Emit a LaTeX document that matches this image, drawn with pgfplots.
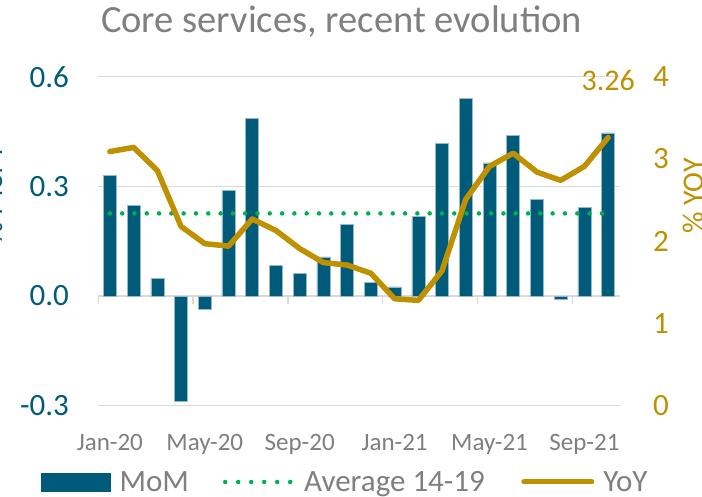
\documentclass[border=0pt]{standalone}
\usepackage{pgfplots}
\usepackage{pgfplotstable}
\pgfplotsset{compat=1.18}
\usepackage{fontspec}
\setmainfont{Carlito}
\definecolor{mteal}{RGB}{0,91,122}
\definecolor{medge}{RGB}{150,185,205}
\definecolor{mgold}{RGB}{191,144,0}
\definecolor{mgreen}{RGB}{0,176,80}
\definecolor{mgray}{RGB}{127,127,127}
\definecolor{mgrid}{RGB}{217,217,217}
\pgfplotstableread{
x mom yoy
0 0.330 3.09
1 0.247 3.14
2 0.048 2.86
3 -0.289 2.18
4 -0.037 1.97
5 0.289 1.94
6 0.487 2.27
7 0.084 2.13
8 0.061 1.91
9 0.107 1.74
10 0.195 1.71
11 0.037 1.61
12 0.025 1.30
13 0.218 1.28
14 0.417 1.64
15 0.540 2.51
16 0.364 2.91
17 0.440 3.07
18 0.265 2.84
19 -0.009 2.74
20 0.242 2.91
21 0.446 3.26
}\datatable
\begin{document}
\begin{tikzpicture}
\useasboundingbox (0,0) rectangle (702pt,496pt);
\node[anchor=base, text=mgray, font=\fontsize{38.5}{46}\selectfont, inner sep=0pt] at (341.5pt,463pt) {Core services, recent evolution};
\begin{axis}[
  at={(98pt,90.3pt)}, anchor=south west,
  scale only axis, width=522pt, height=329pt,
  xmin=-0.5, xmax=21.5, ymin=-0.3, ymax=0.6,
  enlargelimits=false,
  axis line style={draw=none},
  major tick length=0pt,
  ytick={-0.3,0,0.3,0.6},
  ytick pos=left,
  yticklabel style={anchor=east, inner sep=0pt, xshift=-29pt, text=mteal, font=\fontsize{31}{37}\selectfont},
  /pgf/number format/fixed, /pgf/number format/fixed zerofill, /pgf/number format/precision=1,
  /pgf/number format/assume math mode=true,
  ymajorgrids, grid style={mgrid, line width=1.5pt},
  xtick={0,4,8,12,16,20},
  xticklabels={Jan-20,May-20,Sep-20,Jan-21,May-21,Sep-21},
  xtick pos=bottom,
  xticklabel style={anchor=base, inner sep=0pt, yshift=-44.3pt, text=mgray, font=\fontsize{25}{30}\selectfont},
  ylabel={\% MoM},
  ylabel style={at={(axis description cs:-0.182,0.637)}, anchor=south, inner sep=0pt, text=mteal, font=\fontsize{30}{36}\selectfont},
]
\pgfplotsinvokeforeach{-0.5,3.5,7.5,11.5,15.5,19.5}{
  \draw[mgrid, line width=1.5pt] (axis cs:#1,0) -- ++(0pt,-8pt);
}
\addplot[ybar, bar width=13pt, fill=mteal, draw=medge, line width=0.5pt] table[x=x,y=mom]{\datatable};
\addplot[mgreen, line width=4.5pt, line cap=round, dash pattern=on 0pt off 12.3pt] coordinates {(0,0.226) (21,0.226)};
\end{axis}
\begin{axis}[
  at={(98pt,90.3pt)}, anchor=south west,
  scale only axis, width=522pt, height=329pt,
  xmin=-0.5, xmax=21.5, ymin=0, ymax=4,
  enlargelimits=false, clip=false,
  axis x line=none, axis y line*=right,
  axis line style={draw=none},
  major tick length=0pt,
  ytick={0,1,2,3,4},
  yticklabel style={anchor=west, inner sep=0pt, xshift=33pt, text=mgold, font=\fontsize{31}{37}\selectfont},
  /pgf/number format/assume math mode=true,
  ylabel={\% YOY},
  ylabel style={at={(axis description cs:1.1207,0.637)}, anchor=north, inner sep=0pt, text=mgold, font=\fontsize{30}{36}\selectfont},
  legend columns=-1,
  legend style={at={(axis description cs:-0.1092,-0.2319)}, anchor=west, draw=none, fill=none, inner sep=0pt,
    font=\fontsize{31}{37}\selectfont, text=mgray, nodes={inner sep=0pt},
    /tikz/every odd column/.append style={column sep=9pt},
    /tikz/every even column/.append style={column sep=34pt}},
]
\addlegendimage{legend image code/.code={\fill[mteal] (0pt,-9pt) rectangle (69pt,9pt);}}
\addlegendentry{MoM}
\addlegendimage{legend image code/.code={\path[draw=none,fill=none] (0pt,-9pt) rectangle (72pt,9pt); \draw[mgreen, line width=4.5pt, line cap=round, dash pattern=on 0pt off 13pt] (2pt,0pt) -- (67.1pt,0pt);}}
\addlegendentry{Average 14-19}
\addplot[mgold, line width=5.5pt, line join=round, line cap=round,
  legend image code/.code={\path[draw=none,fill=none] (0pt,-9pt) rectangle (70pt,9pt); \draw[mgold, line width=5pt, line cap=round] (5pt,0pt) -- (73pt,0pt);}]
  table[x=x,y=yoy]{\datatable};
\addlegendentry{YoY}
\node[text=mgold, font=\fontsize{30}{36}\selectfont, inner sep=0pt] at (axis cs:21,3.95) {3.26};
\end{axis}
\end{tikzpicture}
\end{document}
